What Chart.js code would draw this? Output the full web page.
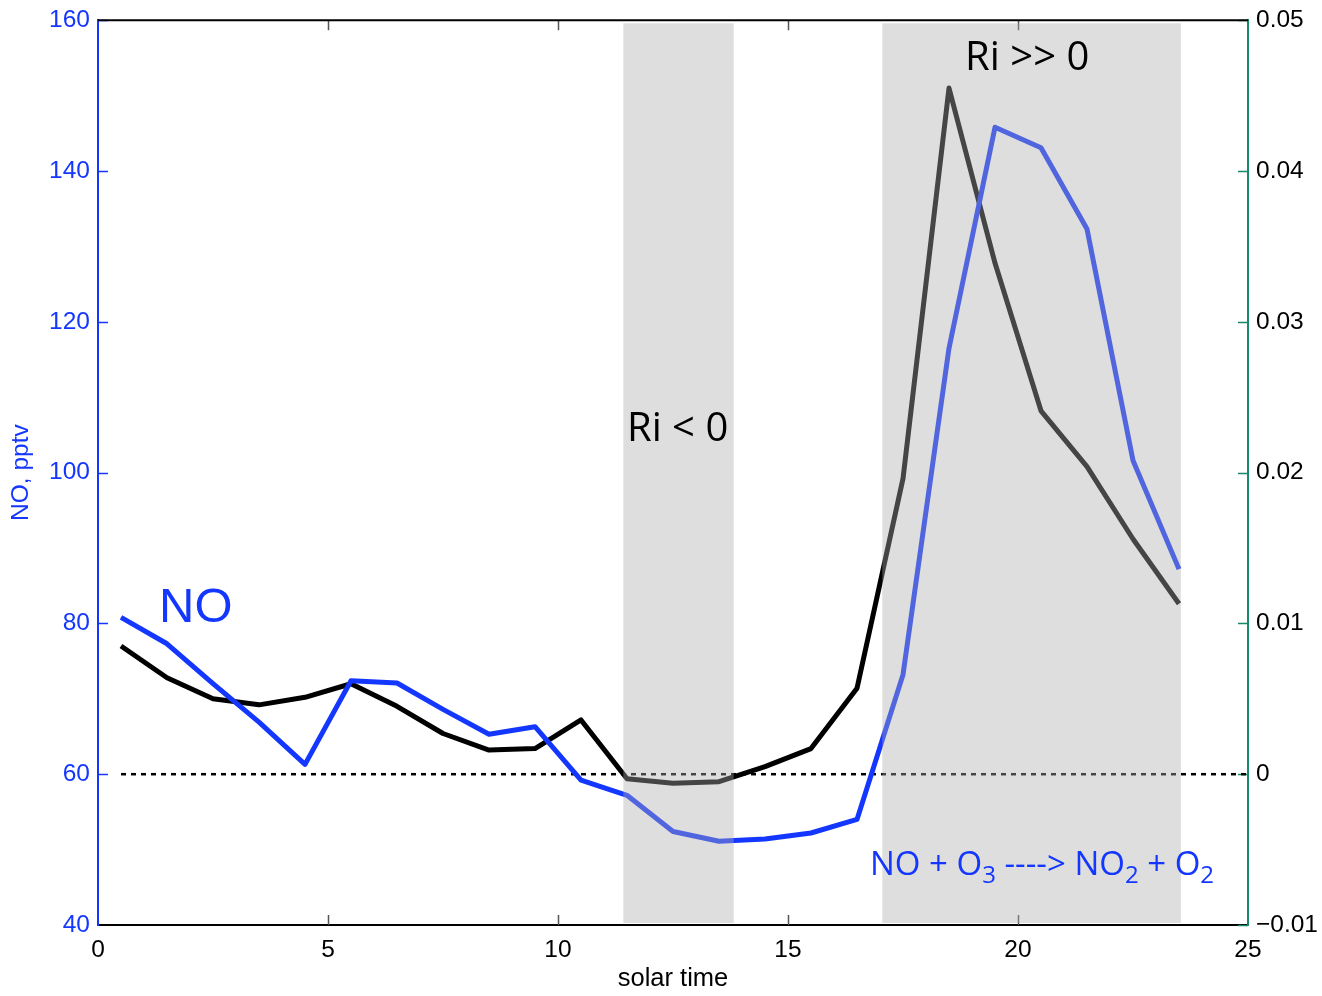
<!DOCTYPE html>
<html>
<head>
<meta charset="utf-8">
<script src="https://cdn.jsdelivr.net/npm/chart.js@4.4.1/dist/chart.umd.min.js"></script>
<style>
  html, body { margin: 0; padding: 0; background: #fff; }
  #wrap { width: 1322px; height: 996px; position: relative; }
</style>
</head>
<body>
<div id="wrap"><canvas id="c" width="1322" height="996"></canvas></div>
<script>
// Hourly means by solar time
const solarHours = [0.5, 1.5, 2.5, 3.5, 4.5, 5.5, 6.5, 7.5, 8.5, 9.5, 10.5, 11.5,
                    12.5, 13.5, 14.5, 15.5, 16.5, 17.5, 18.5, 19.5, 20.5, 21.5, 22.5, 23.5];
// NO mixing ratio, pptv (left axis)
const noValues = [80.8, 77.3, 72.0, 66.9, 61.3, 72.4, 72.1, 68.6, 65.3, 66.3, 59.2, 57.2,
                  52.4, 51.1, 51.4, 52.2, 54.0, 73.2, 116.5, 145.8, 143.1, 132.3, 101.6, 87.2];
// Richardson number (right axis)
const riValues = [0.0085, 0.0064, 0.0050, 0.0046, 0.0051, 0.0060, 0.0045, 0.0027, 0.0016, 0.0017, 0.0036, -0.0003,
                  -0.0006, -0.0005, 0.0005, 0.0017, 0.0057, 0.0196, 0.0455, 0.0339, 0.0241, 0.0204, 0.0156, 0.0113];
// Zero reference line on the Ri axis
const zeroLineX = [0.5, 25];
const zeroLineY = [0, 0];
// Stability regimes (solar time ranges)
const regimes = [
  { from: 11.42, to: 13.82, label: 'Ri < 0',  at: [12.6, 0.0221] },
  { from: 17.05, to: 23.54, label: 'Ri >> 0', at: [20.2, 0.0467] }
];
// Axis ranges and ticks
const xTicks = [0, 5, 10, 15, 20, 25];
const noTicks = [40, 60, 80, 100, 120, 140, 160];
const riTicks = [-0.01, 0, 0.01, 0.02, 0.03, 0.04, 0.05];

const BLUE = '#1437ff';
const GREEN = '#16896a';
const FAMILY = 'Liberation Sans, Arial, sans-serif';
const TICK_FONT = { family: FAMILY, size: 24.5, lineHeight: 1 };
const NOTE_FONT = 'Open Sans, Lato, sans-serif';

function pts(xs, ys) { return xs.map((x, i) => ({ x: x, y: ys[i] })); }

function fmtRi(v) {
  const r = Math.round(v * 100) / 100;
  if (r === 0) return '0';
  return (r < 0 ? '\u2212' : '') + Math.abs(r).toFixed(2);
}

// Inward tick marks and the top frame line
const frameTicks = {
  id: 'frameTicks',
  beforeDatasetsDraw(chart) {
    const ctx = chart.ctx, a = chart.chartArea;
    const sx = chart.scales.x, sl = chart.scales.yNO, sr = chart.scales.yRi;
    const L = 10;
    ctx.save();
    ctx.lineWidth = 1.5;
    ctx.strokeStyle = '#555';
    xTicks.slice(1, -1).forEach(v => {
      const px = Math.round(sx.getPixelForValue(v)) + 0.5;
      ctx.beginPath(); ctx.moveTo(px, a.bottom); ctx.lineTo(px, a.bottom - L); ctx.stroke();
      ctx.beginPath(); ctx.moveTo(px, a.top); ctx.lineTo(px, a.top + L); ctx.stroke();
    });
    ctx.strokeStyle = BLUE;
    noTicks.slice(1).forEach(v => {
      const py = Math.round(sl.getPixelForValue(v)) + 0.5;
      ctx.beginPath(); ctx.moveTo(a.left, py); ctx.lineTo(a.left + L, py); ctx.stroke();
    });
    ctx.strokeStyle = GREEN;
    riTicks.forEach(v => {
      const py = Math.round(sr.getPixelForValue(v)) + 0.5;
      ctx.beginPath(); ctx.moveTo(a.right, py); ctx.lineTo(a.right - L, py); ctx.stroke();
    });
    ctx.restore();
  },
  afterDraw(chart) {
    const ctx = chart.ctx, a = chart.chartArea;
    ctx.save();
    ctx.strokeStyle = '#000';
    ctx.lineWidth = 2;
    ctx.beginPath(); ctx.moveTo(a.left, a.top); ctx.lineTo(a.right, a.top); ctx.stroke();
    ctx.restore();
  }
};

// Translucent bands marking stability regimes, laid over the curves
const regimeBands = {
  id: 'regimeBands',
  afterDatasetsDraw(chart) {
    const ctx = chart.ctx, a = chart.chartArea, sx = chart.scales.x;
    ctx.save();
    ctx.fillStyle = 'rgba(172,172,172,0.4)';
    regimes.forEach(r => {
      const x0 = sx.getPixelForValue(r.from), x1 = sx.getPixelForValue(r.to);
      ctx.fillRect(x0, a.top + 3, x1 - x0, a.bottom - a.top - 5);
    });
    ctx.restore();
  }
};

// Annotation text
const notes = {
  id: 'notes',
  afterDraw(chart) {
    const ctx = chart.ctx, sx = chart.scales.x, sr = chart.scales.yRi, sl = chart.scales.yNO;
    ctx.save();
    ctx.textBaseline = 'alphabetic';
    ctx.fillStyle = '#000';
    ctx.font = '40px ' + NOTE_FONT;
    ctx.textAlign = 'center';
    regimes.forEach(r => {
      ctx.fillText(r.label, sx.getPixelForValue(r.at[0]), sr.getPixelForValue(r.at[1]));
    });

    ctx.fillStyle = BLUE;
    ctx.textAlign = 'left';
    ctx.font = '49px ' + FAMILY;
    ctx.fillText('NO', 159, sl.getPixelForValue(80.2));

    // NO + O3 ----> NO2 + O2 with subscripts
    const parts = [
      ['NO + O', false], ['3', true], [' ----> NO', false], ['2', true], [' + O', false], ['2', true]
    ];
    let x = 870;
    const base = sl.getPixelForValue(46.6);
    parts.forEach(([t, sub]) => {
      ctx.font = (sub ? '24px ' : '33px ') + NOTE_FONT;
      ctx.fillText(t, x, sub ? base + 8 : base);
      x += ctx.measureText(t).width;
    });
    ctx.restore();
  }
};

new Chart(document.getElementById('c'), {
  type: 'line',
  data: {
    datasets: [
      {
        label: 'NO',
        data: pts(solarHours, noValues),
        yAxisID: 'yNO',
        borderColor: BLUE,
        borderWidth: 5,
        pointRadius: 0,
        tension: 0,
        borderJoinStyle: 'round'
      },
      {
        label: 'Ri',
        data: pts(solarHours, riValues),
        yAxisID: 'yRi',
        borderColor: '#000',
        borderWidth: 5,
        pointRadius: 0,
        tension: 0,
        borderJoinStyle: 'round'
      },
      {
        label: 'zero',
        data: pts(zeroLineX, zeroLineY),
        yAxisID: 'yRi',
        borderColor: '#000',
        borderWidth: 2.5,
        borderDash: [5, 5],
        pointRadius: 0
      }
    ]
  },
  options: {
    responsive: false,
    animation: false,
    layout: { padding: { top: 18, left: 0, right: 0, bottom: 0 } },
    plugins: { legend: { display: false }, tooltip: { enabled: false } },
    scales: {
      x: {
        type: 'linear',
        min: 0, max: 25,
        afterBuildTicks: s => { s.ticks = xTicks.map(v => ({ value: v })); },
        afterFit: s => { s.height = 71; },
        grid: { display: false, drawTicks: false },
        border: { display: true, color: '#000', width: 2 },
        ticks: { color: '#000', font: TICK_FONT, padding: 13, maxRotation: 0 },
        title: { display: true, text: 'solar time', color: '#000', font: { family: FAMILY, size: 25.5 }, padding: { top: 0, bottom: 2 } }
      },
      yNO: {
        type: 'linear',
        position: 'left',
        min: 40, max: 160,
        afterBuildTicks: s => { s.ticks = noTicks.map(v => ({ value: v })); },
        afterFit: s => { s.width = 98; },
        grid: { display: false, drawTicks: false },
        border: { display: true, color: BLUE, width: 2 },
        ticks: { color: BLUE, font: TICK_FONT, padding: 8 },
        title: { display: true, text: 'NO, pptv', color: BLUE, font: { family: FAMILY, size: 24.5 }, padding: { top: 7, bottom: 0 } }
      },
      yRi: {
        type: 'linear',
        position: 'right',
        min: -0.01, max: 0.05,
        afterBuildTicks: s => { s.ticks = riTicks.map(v => ({ value: v })); },
        afterFit: s => { s.width = 74; },
        grid: { display: false, drawTicks: false },
        border: { display: true, color: GREEN, width: 2 },
        ticks: { color: '#000', font: TICK_FONT, padding: 8, callback: v => fmtRi(v) }
      }
    }
  },
  plugins: [frameTicks, regimeBands, notes]
});
</script>
</body>
</html>
